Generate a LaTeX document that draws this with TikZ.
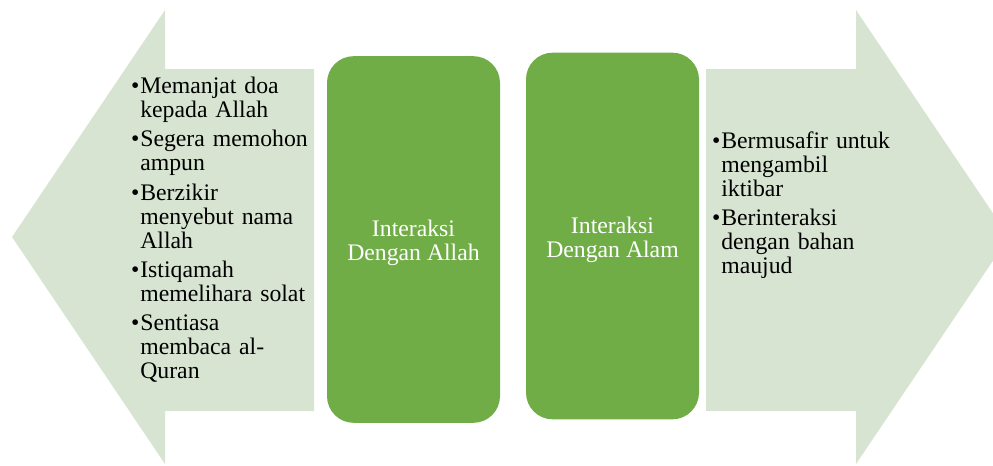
\documentclass[tikz,border=0pt]{standalone}
\usepackage{fontspec}
\setmainfont{Liberation Serif}
\definecolor{palegreen}{RGB}{216,228,210}
\definecolor{boxgreen}{RGB}{112,173,71}
\newcommand{\bitem}[1]{\par\noindent\hangindent=7pt\hangafter=1\makebox[7pt][l]{\textbullet}#1\par}
\tikzset{
  sidearrow/.style={fill=palegreen, draw=none},
  centrebox/.style={fill=boxgreen, draw=none, rounded corners=20pt,
    minimum width=129.75pt, minimum height=275pt, inner sep=0pt,
    text=white, align=center, font=\fontsize{17.8pt}{18pt}\selectfont},
  listtext/.style={anchor=north west, inner sep=0pt, outer sep=0pt, align=left,
    font=\fontsize{17.8pt}{18pt}\selectfont}
}
\begin{document}
\begin{tikzpicture}[x=0.75pt,y=-0.75pt]
\useasboundingbox (0,0) rectangle (993,465);
\clip (0,0) rectangle (993,465);
% left arrow
\fill[sidearrow] (12,237) -- (165,10) -- (165,69) -- (314,69) -- (314,411) -- (165,411) -- (165,464) -- cycle;
% right arrow
\fill[sidearrow] (706,69) -- (856,69) -- (856,10) -- (1009,237) -- (856,464) -- (856,411) -- (706,411) -- cycle;
% centre boxes
\node[centrebox] (allah) at (413.5,239.5) {\rule{0pt}{6pt}\\[-6pt]Interaksi\\Dengan Allah};
\node[centrebox] (alam) at (612.5,236) {\rule{0pt}{6pt}\\[-6pt]Interaksi\\Dengan Alam};
% left list
\node[listtext, text width=140pt] (leftlist) at (131,64) {%
\setlength{\parskip}{4pt}%
\bitem{Memanjat doa\newline kepada Allah}%
\bitem{Segera memohon\newline ampun}%
\bitem{Berzikir\newline menyebut nama\newline Allah}%
\bitem{Istiqamah\newline memelihara solat}%
\bitem{Sentiasa\newline membaca al-\newline Quran}};
% right list
\node[listtext, text width=140pt] (rightlist) at (712,119) {%
\setlength{\parskip}{4pt}%
\bitem{Bermusafir untuk\newline mengambil\newline iktibar}%
\bitem{Berinteraksi\newline dengan bahan\newline maujud}};
\end{tikzpicture}
\end{document}
